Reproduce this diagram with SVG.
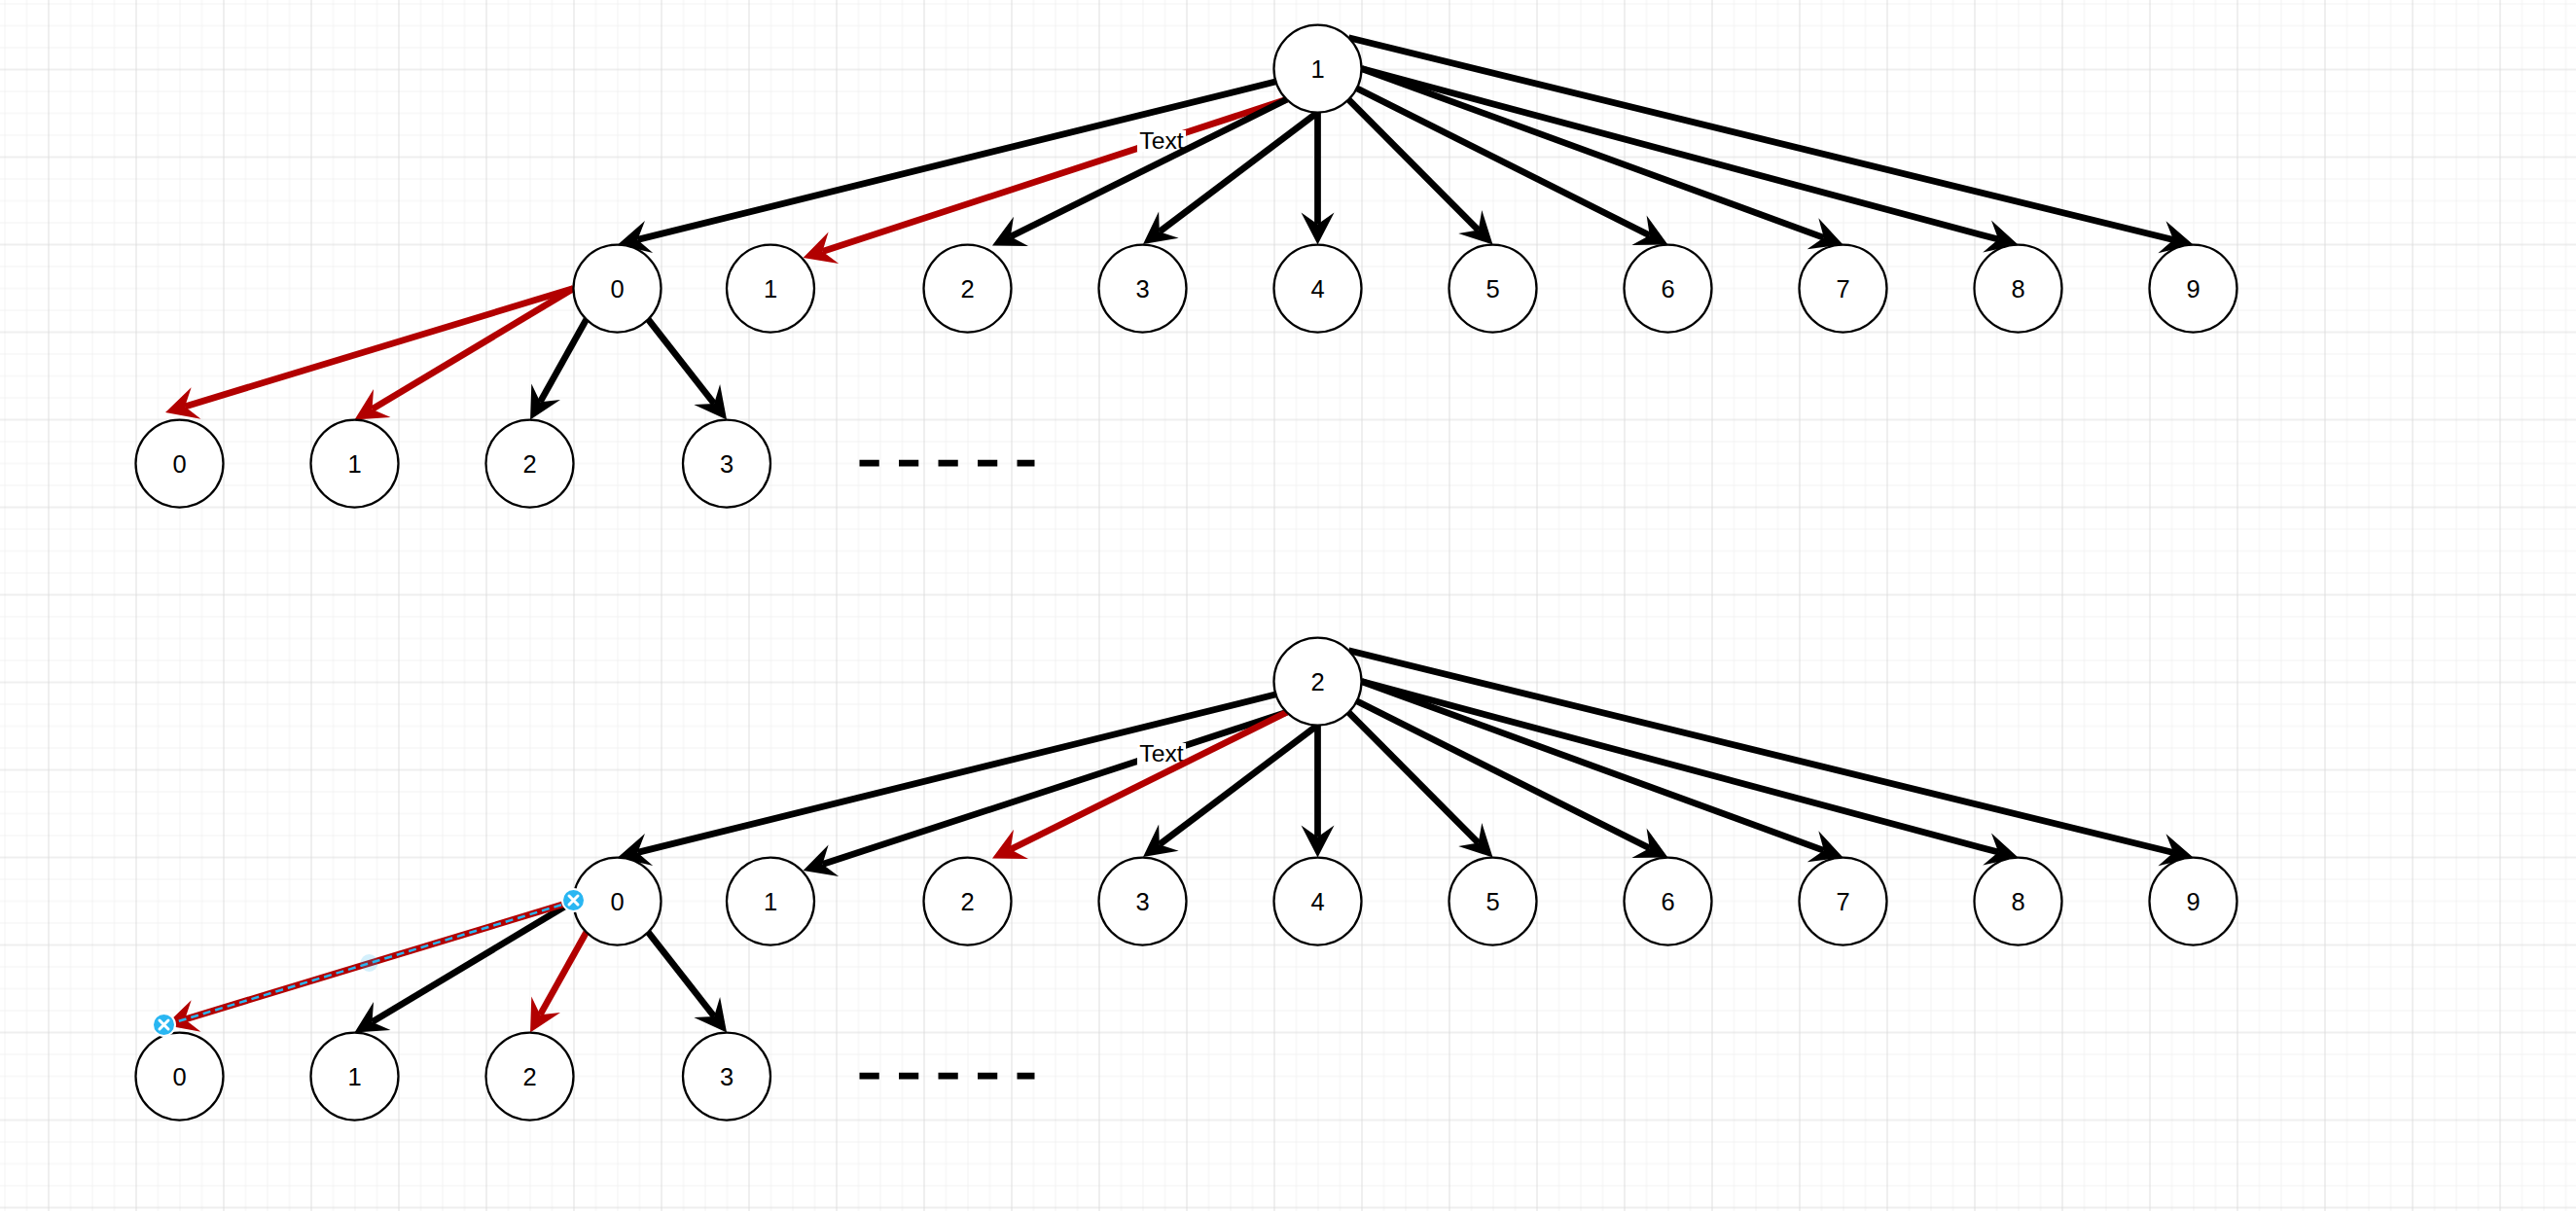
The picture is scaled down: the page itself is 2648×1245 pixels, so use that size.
<svg xmlns="http://www.w3.org/2000/svg" width="2648" height="1245" viewBox="0 0 2648 1245">
<style>
.node{fill:#ffffff;stroke:#000000;stroke-width:2.25}
.lbl{font-family:"Liberation Sans",Arial,sans-serif;font-size:25.5px;fill:#000000;text-anchor:middle}
.tl{font-family:"Liberation Sans",Arial,sans-serif;font-size:24.75px;fill:#000000;text-anchor:middle}
.e{fill:none;stroke-width:6.75;stroke-linecap:butt}
.k{stroke:#000000;marker-end:url(#ak)}
.r{stroke:#B20000;marker-end:url(#ar)}
.dash{stroke:#000000;stroke-width:6.75;stroke-dasharray:20.25 20.25;fill:none}
.lbg{fill:#ffffff}
.h{fill:#29b6f2;stroke:#ffffff;stroke-width:2}
.hx{stroke:#ffffff;stroke-width:3;stroke-linecap:round}
</style>
<defs>
<pattern id="grid" x="4.5" y="3.5" width="90" height="90" patternUnits="userSpaceOnUse">
<path d="M0.5,0V90M23,0V90M68,0V90M0,0.5H90M0,23H90M0,45.5H90" stroke="#f2f2f2" stroke-width="1" fill="none"/>
<path d="M45.5,0V90M0,68H90" stroke="#dedede" stroke-width="1" fill="none"/>
</pattern>
<marker id="ak" viewBox="-13 -18 35 36" markerWidth="35" markerHeight="36" refX="0" refY="0" orient="auto" markerUnits="userSpaceOnUse"><path d="M21,0L-12,-17L0,0L-12,17Z" fill="#000000"/></marker>
<marker id="ar" viewBox="-13 -18 35 36" markerWidth="35" markerHeight="36" refX="0" refY="0" orient="auto" markerUnits="userSpaceOnUse"><path d="M21,0L-12,-17L0,0L-12,17Z" fill="#B20000"/></marker>
</defs>
<rect width="2648" height="1245" fill="#ffffff"/>
<rect width="2648" height="1245" fill="url(#grid)"/>

<g id="connectors">
<!-- top tree -->
<path class="e k" d="M1311,84L655.4,246.4"/>
<path class="e r" d="M1322.7,102.3L845.5,258.5"/>
<rect class="lbg" x="1169" y="134" width="50" height="22"/>
<text class="tl" x="1194" y="153.3">Text</text>
<path class="e k" d="M1322.7,102.3L1038.8,243.2"/>
<path class="e k" d="M1354.5,115.5L1191.8,238.3"/>
<path class="e k" d="M1354.5,115.5L1354.5,230.5"/>
<path class="e k" d="M1386.3,102.3L1519.7,236.6"/>
<path class="e k" d="M1394.7,90.7L1695.7,242.1"/>
<path class="e k" d="M1399.5,70.5L1874.8,244.3"/>
<path class="e k" d="M1399.5,70.5L2054.2,246.1"/>
<path class="e k" d="M1386.3,38.7L2234.1,246.5"/>
<path class="e r" d="M589.5,296.5L190.1,417.9"/>
<path class="e r" d="M589.5,296.5L382.5,420.7"/>
<path class="e k" d="M602.7,328.3L555.3,413.2"/>
<path class="e k" d="M666.3,328.3L734.1,415"/>
<!-- bottom tree -->
<path class="e k" d="M1311,714L655.4,876.4"/>
<path class="e k" d="M1322.7,732.3L845.5,888.5"/>
<rect class="lbg" x="1169" y="764" width="50" height="22"/>
<text class="tl" x="1194" y="783.3">Text</text>
<path class="e r" d="M1322.7,732.3L1038.8,873.2"/>
<path class="e k" d="M1354.5,745.5L1191.8,868.3"/>
<path class="e k" d="M1354.5,745.5L1354.5,860.5"/>
<path class="e k" d="M1386.3,732.3L1519.7,866.6"/>
<path class="e k" d="M1394.7,720.7L1695.7,872.1"/>
<path class="e k" d="M1399.5,700.5L1874.8,874.3"/>
<path class="e k" d="M1399.5,700.5L2054.2,876.1"/>
<path class="e k" d="M1386.3,668.7L2234.1,876.5"/>
<path class="e k" d="M589.5,926.5L382.5,1050.7"/>
<path class="e r" d="M602.7,958.3L555.3,1043.2"/>
<path class="e k" d="M666.3,958.3L734.1,1045"/>
<path class="e r" d="M589.5,926.5L190.1,1047.9"/>
</g>

<g id="dashes-top"><path class="dash" d="M883.5,476H1063.5"/></g>
<g id="dashes-bottom"><path class="dash" d="M883.5,1106H1063.5"/></g>

<!-- top tree nodes -->
<g id="t-root"><circle class="node" cx="1354.5" cy="70.5" r="45"/><text class="lbl" x="1354.5" y="79.6">1</text></g>
<g id="t-a0"><circle class="node" cx="634.5" cy="296.5" r="45"/><text class="lbl" x="634.5" y="305.6">0</text></g>
<g id="t-a1"><circle class="node" cx="792" cy="296.5" r="45"/><text class="lbl" x="792" y="305.6">1</text></g>
<g id="t-a2"><circle class="node" cx="994.5" cy="296.5" r="45"/><text class="lbl" x="994.5" y="305.6">2</text></g>
<g id="t-a3"><circle class="node" cx="1174.5" cy="296.5" r="45"/><text class="lbl" x="1174.5" y="305.6">3</text></g>
<g id="t-a4"><circle class="node" cx="1354.5" cy="296.5" r="45"/><text class="lbl" x="1354.5" y="305.6">4</text></g>
<g id="t-a5"><circle class="node" cx="1534.5" cy="296.5" r="45"/><text class="lbl" x="1534.5" y="305.6">5</text></g>
<g id="t-a6"><circle class="node" cx="1714.5" cy="296.5" r="45"/><text class="lbl" x="1714.5" y="305.6">6</text></g>
<g id="t-a7"><circle class="node" cx="1894.5" cy="296.5" r="45"/><text class="lbl" x="1894.5" y="305.6">7</text></g>
<g id="t-a8"><circle class="node" cx="2074.5" cy="296.5" r="45"/><text class="lbl" x="2074.5" y="305.6">8</text></g>
<g id="t-a9"><circle class="node" cx="2254.5" cy="296.5" r="45"/><text class="lbl" x="2254.5" y="305.6">9</text></g>
<g id="t-b0"><circle class="node" cx="184.5" cy="476.5" r="45"/><text class="lbl" x="184.5" y="485.6">0</text></g>
<g id="t-b1"><circle class="node" cx="364.5" cy="476.5" r="45"/><text class="lbl" x="364.5" y="485.6">1</text></g>
<g id="t-b2"><circle class="node" cx="544.5" cy="476.5" r="45"/><text class="lbl" x="544.5" y="485.6">2</text></g>
<g id="t-b3"><circle class="node" cx="747" cy="476.5" r="45"/><text class="lbl" x="747" y="485.6">3</text></g>

<!-- bottom tree nodes -->
<g id="b-root"><circle class="node" cx="1354.5" cy="700.5" r="45"/><text class="lbl" x="1354.5" y="709.6">2</text></g>
<g id="b-a0"><circle class="node" cx="634.5" cy="926.5" r="45"/><text class="lbl" x="634.5" y="935.6">0</text></g>
<g id="b-a1"><circle class="node" cx="792" cy="926.5" r="45"/><text class="lbl" x="792" y="935.6">1</text></g>
<g id="b-a2"><circle class="node" cx="994.5" cy="926.5" r="45"/><text class="lbl" x="994.5" y="935.6">2</text></g>
<g id="b-a3"><circle class="node" cx="1174.5" cy="926.5" r="45"/><text class="lbl" x="1174.5" y="935.6">3</text></g>
<g id="b-a4"><circle class="node" cx="1354.5" cy="926.5" r="45"/><text class="lbl" x="1354.5" y="935.6">4</text></g>
<g id="b-a5"><circle class="node" cx="1534.5" cy="926.5" r="45"/><text class="lbl" x="1534.5" y="935.6">5</text></g>
<g id="b-a6"><circle class="node" cx="1714.5" cy="926.5" r="45"/><text class="lbl" x="1714.5" y="935.6">6</text></g>
<g id="b-a7"><circle class="node" cx="1894.5" cy="926.5" r="45"/><text class="lbl" x="1894.5" y="935.6">7</text></g>
<g id="b-a8"><circle class="node" cx="2074.5" cy="926.5" r="45"/><text class="lbl" x="2074.5" y="935.6">8</text></g>
<g id="b-a9"><circle class="node" cx="2254.5" cy="926.5" r="45"/><text class="lbl" x="2254.5" y="935.6">9</text></g>
<g id="b-b0"><circle class="node" cx="184.5" cy="1106.5" r="45"/><text class="lbl" x="184.5" y="1115.6">0</text></g>
<g id="b-b1"><circle class="node" cx="364.5" cy="1106.5" r="45"/><text class="lbl" x="364.5" y="1115.6">1</text></g>
<g id="b-b2"><circle class="node" cx="544.5" cy="1106.5" r="45"/><text class="lbl" x="544.5" y="1115.6">2</text></g>
<g id="b-b3"><circle class="node" cx="747" cy="1106.5" r="45"/><text class="lbl" x="747" y="1115.6">3</text></g>

<!-- selection overlay on the selected red edge -->
<g id="selection">
<path d="M589.5,926.5L170,1054" fill="none" stroke="#29b6f2" stroke-width="2.5" stroke-dasharray="8 5"/>
<circle cx="379.5" cy="990" r="9" fill="#29b6f2" fill-opacity="0.2"/>
<circle class="h" cx="589.5" cy="925.5" r="11.5"/>
<path class="hx" d="M585,921L594,930M594,921L585,930"/>
<circle class="h" cx="168.5" cy="1053.5" r="11.5"/>
<path class="hx" d="M164,1049L173,1058M173,1049L164,1058"/>
</g>
</svg>
